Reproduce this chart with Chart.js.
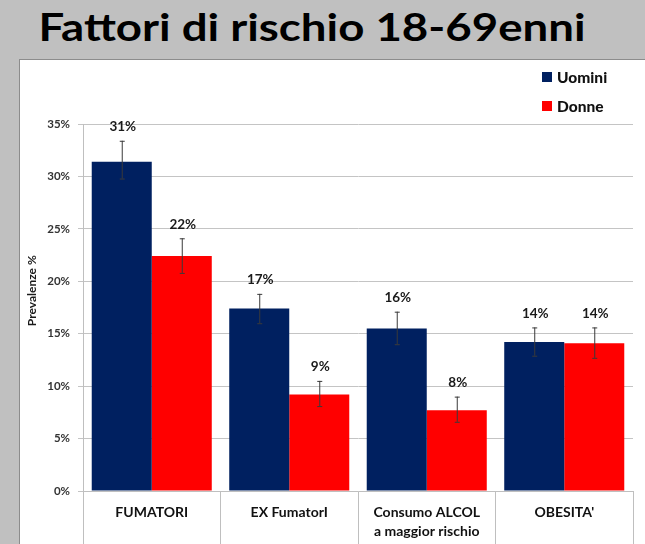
<!DOCTYPE html>
<html>
<head>
<meta charset="utf-8">
<script src="https://cdn.jsdelivr.net/npm/chart.js@4.4.0/dist/chart.umd.min.js"></script>
<style>
body { margin:0; background:#c0c0c0; width:645px; height:544px; overflow:hidden; position:relative; font-family:Lato, sans-serif; }
#title { position:absolute; left:0; width:624px; top:3px; text-align:center; font:bold 38px Lato, sans-serif; color:#000; margin:0; transform:scaleX(1.2); transform-origin:312px 0; white-space:nowrap; }
#panel { position:absolute; left:19px; top:59px; width:640px; height:500px; background:#fff; border:1px solid #8c8c8c; }
#legend { position:absolute; left:542px; top:62px; font:900 15.5px Lato, sans-serif; color:#111; }
#legend div { height:29px; display:flex; align-items:center; }
#legend span.sw { display:inline-block; width:10px; height:10px; margin-right:5px; }
canvas { position:absolute; left:0; top:0; }
</style>
</head>
<body>
<h1 id="title">Fattori di rischio 18-69enni</h1>
<div id="panel"><canvas id="c" width="625" height="484"></canvas></div>
<div id="legend">
  <div><span class="sw" style="background:#002060"></span>Uomini</div>
  <div><span class="sw" style="background:#ff0000"></span>Donne</div>
</div>
<script>
var categories = ['FUMATORI', 'EX FumatorI', ['Consumo ALCOL', 'a maggior rischio'], "OBESITA'"];
var uomini = [31.4, 17.4, 15.5, 14.2];
var uominiLow = [29.8, 16.0, 14.0, 12.9];
var uominiHigh = [33.4, 18.8, 17.1, 15.6];
var uominiLabels = ['31%', '17%', '16%', '14%'];
var donne = [22.4, 9.2, 7.7, 14.1];
var donneLow = [20.8, 8.1, 6.6, 12.7];
var donneHigh = [24.1, 10.5, 9.0, 15.6];
var donneLabels = ['22%', '9%', '8%', '14%'];
var yTicks = [0, 5, 10, 15, 20, 25, 30, 35];
var yTitle = 'Prevalenze %';

// error bars, value labels and the y title (sits a bit above centre in the original)
var errorBars = {
  id: 'errorBars',
  afterDatasetsDraw: function(chart) {
    var ctx = chart.ctx, y = chart.scales.y;
    chart.data.datasets.forEach(function(ds, i) {
      var meta = chart.getDatasetMeta(i);
      meta.data.forEach(function(bar, j) {
        var top = y.getPixelForValue(ds.errHigh[j]);
        var bot = y.getPixelForValue(ds.errLow[j]);
        ctx.save();
        ctx.strokeStyle = '#3a3a3a';
        ctx.lineWidth = 1;
        ctx.beginPath();
        ctx.moveTo(bar.x + 0.5, top); ctx.lineTo(bar.x + 0.5, bot);
        ctx.moveTo(bar.x - 2, top + 0.5); ctx.lineTo(bar.x + 3, top + 0.5);
        ctx.moveTo(bar.x - 2, bot + 0.5); ctx.lineTo(bar.x + 3, bot + 0.5);
        ctx.stroke();
        ctx.fillStyle = '#1a1a1a';
        ctx.font = 'bold 13.5px Lato, sans-serif';
        ctx.textAlign = 'center';
        ctx.textBaseline = 'middle';
        ctx.fillText(ds.valueLabels[j], bar.x + 1, top - 14);
        ctx.restore();
      });
    });
    ctx.save();
    ctx.translate(12, y.getPixelForValue(19.1));
    ctx.rotate(-Math.PI / 2);
    ctx.fillStyle = '#1a1a1a';
    ctx.font = 'bold 12px Lato, sans-serif';
    ctx.textAlign = 'center';
    ctx.textBaseline = 'middle';
    ctx.fillText(yTitle, 0, 0);
    ctx.restore();
  }
};

var ctx = document.getElementById('c').getContext('2d');
var chart = new Chart(ctx, {
  type: 'bar',
  data: {
    labels: categories,
    datasets: [
      { label: 'Uomini', data: uomini, backgroundColor: '#002060', errLow: uominiLow, errHigh: uominiHigh, valueLabels: uominiLabels },
      { label: 'Donne', data: donne, backgroundColor: '#ff0000', errLow: donneLow, errHigh: donneHigh, valueLabels: donneLabels }
    ]
  },
  plugins: [errorBars],
  options: {
    responsive: false,
    animation: false,
    devicePixelRatio: 1,
    categoryPercentage: 0.873,
    barPercentage: 1,
    layout: { padding: { top: 64, right: 12, left: 0, bottom: 0 } },
    plugins: { legend: { display: false }, tooltip: { enabled: false } },
    scales: {
      x: {
        afterFit: function(s) { s.height = 53; },
        grid: { drawOnChartArea: false, offset: true, tickLength: 53, color: '#bfbfbf' },
        border: { color: '#bfbfbf' },
        ticks: { padding: -41, color: '#111', font: { family: 'Lato', weight: 'bold', size: 14, lineHeight: 1.35 }, maxRotation: 0 }
      },
      y: {
        min: 0, max: 35,
        afterFit: function(s) { s.width = 63; },
        afterBuildTicks: function(s) { s.ticks = yTicks.map(function(v) { return { value: v }; }); },
        grid: { color: '#c4c4c4', tickLength: 5 },
        border: { color: '#bfbfbf' },
        ticks: { padding: 8, color: '#333', font: { family: 'Lato', weight: 'bold', size: 11.5 }, callback: function(v) { return v + '%'; } }
      }
    }
  }
});
</script>
</body>
</html>
